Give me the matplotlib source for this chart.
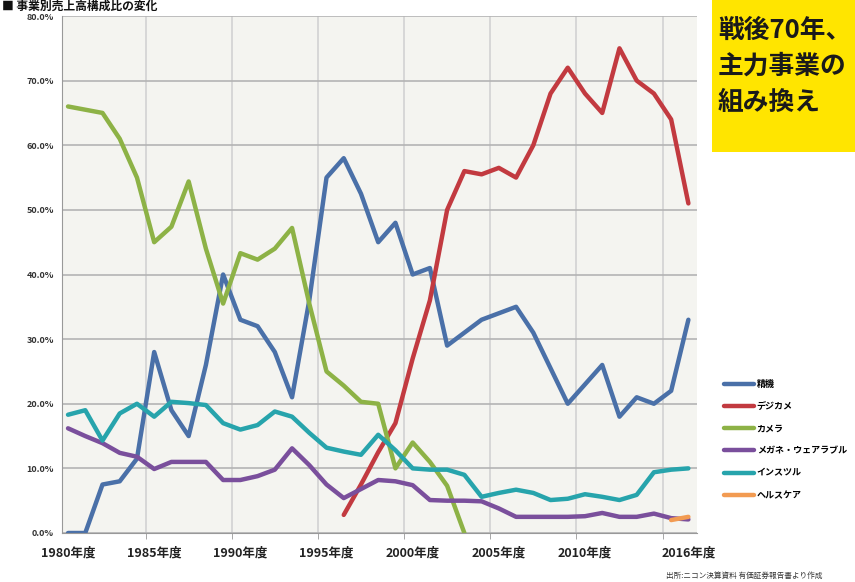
import numpy as np
import matplotlib
matplotlib.use("Agg")
import matplotlib.pyplot as plt
from matplotlib.patches import Rectangle

plt.rcParams["font.family"] = ["Noto Sans CJK JP", "DejaVu Sans"]

nan = np.nan
years = list(range(1980, 2017))
seiki = [0, 0, 7.5, 8, 11.5, 28, 19, 15, 26, 40, 33, 32, 28, 21, 36, 55, 58, 52.5, 45, 48,
         40, 41, 29, 31, 33, 34, 35, 31, 25.5, 20, 23, 26, 18, 21, 20, 22, 33]
digicame = [nan] * 16 + [2.8, 7.5, 12.5, 17, 27, 36, 50, 56, 55.5, 56.5, 55, 60, 68, 72, 68, 65,
                         75, 70, 68, 64, 51]
camera = [66, 65.5, 65, 61, 55, 45, 47.4, 54.4, 44, 35.5, 43.3, 42.3, 44, 47.2, 35.5, 25, 22.8,
          20.3, 20, 10, 14, 11, 7.3, 0] + [nan] * 13
megane = [16.2, 15, 13.9, 12.4, 11.8, 9.9, 11, 11, 11, 8.2, 8.2, 8.8, 9.8, 13.1, 10.5, 7.5, 5.4,
          6.8, 8.2, 8, 7.4, 5.1, 5, 5, 4.9, 3.8, 2.5, 2.5, 2.5, 2.5, 2.6, 3.1, 2.5, 2.5, 3, 2.3, 2.1]
instr = [18.3, 19, 14.3, 18.5, 20, 18, 20.3, 20.1, 19.8, 17, 16, 16.7, 18.8, 18, 15.5, 13.2,
         12.6, 12.1, 15.2, 12.8, 10, 9.8, 9.8, 9, 5.6, 6.2, 6.7, 6.2, 5.1, 5.3, 6, 5.6, 5.1, 5.9,
         9.4, 9.8, 10]
health = [nan] * 35 + [2.0, 2.5]

series_names = ["精機", "デジカメ", "カメラ", "メガネ・ウェアラブル", "インスツル", "ヘルスケア"]
series_vals = [seiki, digicame, camera, megane, instr, health]
colors = ["#4a70a8", "#c23a40", "#8db246", "#7a4f9c", "#27a4ac", "#f29b52"]

tick_years = [1980, 1985, 1990, 1995, 2000, 2005, 2010, 2016]
tick_labels = ["%d年度" % y for y in tick_years]

fig = plt.figure(figsize=(8.55, 5.82), dpi=100)
ax = fig.add_axes([62 / 855, 49 / 582, 635 / 855, 517 / 582])
ax.set_facecolor("#f4f4f0")

for name, vals, col in zip(series_names, series_vals, colors):
    ax.plot(years, np.array(vals, dtype=float) / 100.0, color=col, lw=3.2,
            label=name, solid_joinstyle="round", solid_capstyle="round")

ax.set_xlim(1979.65, 2016.5)
ax.set_ylim(0, 0.8)
ax.set_yticks(np.arange(0, 0.81, 0.1))
ax.set_yticklabels(["%.1f%%" % (v * 100) for v in np.arange(0, 0.81, 0.1)], fontsize=6.5,
                   fontweight="bold", color="#333333")
ax.set_xticks(tick_years)
ax.set_xticklabels(tick_labels, fontsize=9, fontweight="bold", color="#222222")
ax.set_xticks(np.arange(1984.5, 2016, 5), minor=True)
ax.tick_params(axis="x", which="major", length=0, pad=10)
ax.tick_params(axis="x", which="minor", length=4, color="#999999")
ax.tick_params(axis="y", length=0, pad=6)
ax.grid(axis="y", color="#b4b4b4", lw=1.2)
ax.grid(axis="x", which="minor", color="#d2d2d2", lw=1.2)
ax.set_axisbelow(True)
for s in ["top", "right"]:
    ax.spines[s].set_visible(False)
ax.spines["left"].set_color("#999999")
ax.spines["bottom"].set_color("#999999")

leg = fig.legend(loc="upper left", bbox_to_anchor=(716 / 855, 1 - 372 / 582), frameon=False,
                 fontsize=6.5, handlelength=3.3, labelspacing=1.45, handletextpad=0.3)
for t in leg.get_texts():
    t.set_fontweight("bold")

# yellow call-out box in the top right corner
fig.patches.append(Rectangle((712 / 855, 1 - 152 / 582), 0.2, 152 / 582, transform=fig.transFigure,
                             facecolor="#ffe500", edgecolor="none"))
for i, line in enumerate(["戦後70年、", "主力事業の", "組み換え"]):
    fig.text(718 / 855, 1 - (30 + i * 36) / 582, line, fontsize=18.5, fontweight="bold",
             va="center", ha="left", color="#1a1a1a")

fig.text(0.002, 1 - 6 / 582, "■ 事業別売上高構成比の変化", fontsize=8.5, fontweight="bold",
         va="center", ha="left", color="#111111")
fig.text(822 / 855, 1 - 576 / 582, "出所:ニコン決算資料 有価証券報告書より作成", fontsize=5.5,
         ha="right", va="center", color="#333333")

fig.savefig("out.png", dpi=100)
